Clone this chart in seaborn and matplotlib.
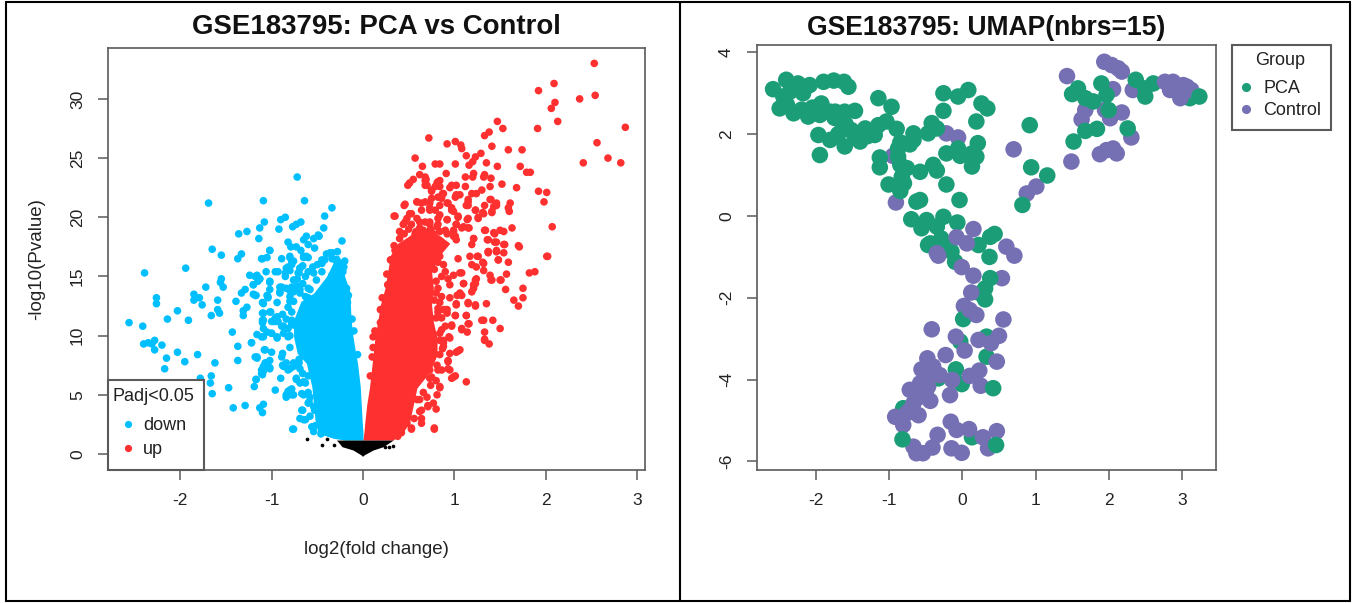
import numpy as np
import pandas as pd
import matplotlib
matplotlib.use('Agg')
import matplotlib.pyplot as plt
from matplotlib.lines import Line2D
from matplotlib.patches import Rectangle
import seaborn as sns

sns.set_style('ticks')
plt.rcParams['font.family'] = ['Liberation Sans', 'DejaVu Sans']
plt.rcParams['axes.unicode_minus'] = False

down_pts = [(-0.72,23.4),(-1.69,21.2),(-1.09,21.4),(-0.64,21.4),(-0.34,20.8),(-0.42,20.1),(-0.90,19.8),(-0.85,20.0),
    (-1.08,19.6),(-0.68,19.6),(-0.77,19.2),(-0.73,19.4),(-1.13,19.1),(-0.43,19.1),(-0.92,19.0),(-1.36,18.6),(-1.27,18.8),
    (-0.48,18.4),(-0.54,18.2),(-0.62,18.4),(-1.14,18.2),(-0.23,18.0),(-0.82,17.9),(-0.65,18.1),(-0.60,17.7),(-0.79,17.5),
    (-0.73,17.5),(-0.68,17.2),(-0.53,17.4),(-1.65,17.3),(-1.02,17.2),(-0.28,17.1),(-0.34,17.0),(-1.55,16.8),(-1.33,16.9),
    (-1.37,16.5),(-1.10,16.5),(-1.05,16.6),(-0.89,16.5),(-0.80,16.6),(-0.65,16.6),(-0.60,16.6),(-0.78,16.3),(-1.94,15.7),
    (-2.39,15.3),(-0.82,15.8),(-0.80,15.5),(-0.69,15.7),(-0.70,15.3),(-0.24,15.8),(-0.22,15.4),(-1.06,15.4),(-0.96,15.4),
    (-0.93,15.4),(-0.85,15.3),(-1.24,15.1),(-1.18,15.0),(-1.13,14.8),(-1.15,14.6),(-1.55,14.8),(-1.56,14.5),(-1.53,14.1),
    (-1.72,14.1),(-1.20,14.3),(-1.02,14.5),(-1.02,13.9),(-1.29,13.9),(-1.33,13.6),(-1.20,13.5),(-1.17,13.4),(-1.85,13.5),
    (-1.79,13.2),(-1.85,13.0),(-1.76,12.6),(-2.26,13.2),(-2.26,12.7),(-1.59,13.0),(-1.39,12.9),(-1.27,12.4),(-1.31,12.1),
    (-1.31,11.7),(-1.10,12.8),(-0.94,12.8),(-1.04,13.2),(-1.05,13.4),(-2.03,12.1),(-1.59,12.2),(-1.57,11.9),(-1.66,11.7),
    (-2.14,11.4),(-1.91,11.3),(-2.56,11.1),(-2.41,10.8),(-1.10,11.9),(-1.01,12.0),(-1.10,11.3),(-0.98,11.2),(-0.94,11.6),
    (-1.09,10.6),(-1.00,10.2),(-1.16,10.1),(-1.09,9.9),(-0.94,9.9),(-0.89,10.8),(-0.88,11.8),(-0.78,11.3),(-0.84,10.6),
    (-0.89,14.1),(-0.91,13.7),(-0.76,13.7),(-0.69,13.6),(-0.80,12.9),(-0.78,12.0),(-1.43,10.3),(-2.40,9.3),(-2.35,9.4),
    (-2.28,9.6),(-2.31,9.3),(-2.20,9.2),(-2.28,8.8),(-2.03,8.6),(-1.81,8.4),(-2.15,8.1),(-1.95,7.8),(-2.17,7.2),(-1.37,9.1),
    (-1.22,9.4),(-1.08,8.8),(-1.00,8.6),(-1.16,8.2),(-1.37,7.9),(-1.62,7.7),(-1.05,7.7),(-1.02,7.9),(-1.09,7.4),(-1.02,7.3),
    (-1.11,6.8),(-1.09,7.0),(-1.17,6.3),(-1.19,5.7),(-1.78,6.4),(-1.66,6.6),(-1.67,6.0),(-1.65,5.1),(-1.47,5.6),(-0.96,5.4),
    (-1.42,3.9),(-1.29,4.1),(-1.09,4.2),(-1.13,3.9),(-1.10,3.5),(-0.88,8.5),(-0.89,8.2),(-0.87,7.4),(-0.82,7.1),(-0.76,7.4),
    (-0.69,7.2),(-0.90,6.4),(-0.80,5.4),(-0.84,5.0),(-0.78,5.0),(-0.77,2.1),(-0.67,3.7),(-0.69,3.0),(-0.65,2.9),(-0.56,2.3),
    (-0.73,6.3),(-0.65,6.1),(-0.67,5.1),(-0.60,4.3),
    (-0.36,17.0),(-0.34,16.5),(-0.42,16.4),(-0.45,16.4),(-0.49,18.5),(-0.62,16.7),(-0.65,16.7),(-0.80,16.7),(-0.76,16.3),
    (-0.78,16.0),(-1.11,16.5),(-1.02,17.2),(-0.84,15.7),(-0.85,15.0),(-0.76,14.7),(-0.69,15.7),(-0.71,15.3),(-0.60,15.4),
    (-0.63,15.0),(-0.54,15.3),(-0.45,16.1),(-0.45,15.4),(-0.27,15.8),(-0.18,14.0),(-0.25,14.7),(-1.16,15.1),(-1.13,14.8),
    (-1.20,14.3),(-1.18,13.4),(-1.02,14.6),(-1.04,13.3),(-0.91,14.1),(-0.91,13.6),(-0.84,14.0),(-0.78,14.1),(-0.69,13.9),
    (-0.58,13.9),(-0.80,13.3),(-0.76,12.9),(-0.63,13.3),(-0.60,13.2),(-0.51,14.7),(-0.34,15.1),(-0.38,14.1),(-1.09,12.7),
    (-1.02,12.0),(-1.09,11.9),(-1.09,11.3),(-0.96,11.5),(-0.96,11.2),(-0.76,10.9),(-0.87,10.8),(-1.10,11.1),(-1.00,11.2),
    (-0.93,11.2),(-0.87,10.2),(-0.82,9.9),(-0.78,11.0),(-1.05,10.3),(-1.00,10.2),(-1.11,9.9),(-0.94,9.8),(-1.22,9.4),
    (-1.07,8.8),(-1.18,8.2),(-1.16,8.1),(-1.07,7.7),(-0.88,7.5),(-0.84,7.7),(-0.80,7.2),(-0.76,7.7),(-1.11,7.1),(-1.10,6.7),
    (-1.02,7.2),(-1.17,6.3),(-0.73,6.4),(-0.69,6.0),(-0.63,6.0),(-0.78,5.5),(-0.84,4.8),(-0.76,5.0),(-0.82,5.3),(-0.65,5.0),
    (-0.59,4.4),(-0.66,3.7),(-0.63,2.9),(-0.76,2.1),(-0.54,1.9),(-0.58,3.2),(-0.53,3.7),
    (-0.40,16.9),(-0.30,16.4),(-0.50,16.0),(-0.55,15.8),(-0.66,15.9),(-0.72,14.8),(-0.66,14.4),(-0.60,14.0),(-0.72,14.2),
    (-0.80,13.8),(-0.82,12.4),(-0.84,11.4),(-0.82,10.6),(-0.80,10.0),(-0.80,9.0),(-0.70,8.0),(-0.60,6.6),(-0.66,6.8),
    (-0.70,7.7),(-0.60,5.2),(-0.58,4.8),(-0.54,4.0),(-0.52,2.4),(-0.46,1.7),(-0.16,13.4),(-0.17,12.8),(-0.12,11.4),
    (-0.10,10.4),(-0.06,8.4),(-0.21,15.8),(-0.20,16.3)]

up_pts = [(2.53,33.0),(2.09,31.3),(1.92,30.7),(2.54,30.3),(2.37,30.0),(2.10,29.7),(2.06,29.2),(2.13,28.1),(1.47,28.1),
    (1.53,27.5),(1.91,27.5),(2.87,27.6),(1.38,27.2),(1.33,26.9),(0.72,26.7),(2.56,26.3),(0.92,26.2),(1.01,26.4),(1.07,26.1),
    (1.08,25.8),(1.41,26.0),(1.59,25.7),(1.74,25.7),(1.13,25.2),(1.23,25.1),(1.29,25.4),(0.57,25.0),(2.68,25.0),(2.41,24.6),
    (2.82,24.6),(0.79,24.5),(0.84,24.5),(1.01,24.5),(1.16,24.4),(1.20,24.7),(1.35,24.6),(0.65,24.3),(1.47,24.3),(1.72,24.3),
    (1.79,23.8),(1.83,23.8),(0.91,23.7),(0.62,23.6),(1.21,23.7),(1.20,23.4),(1.33,23.6),(1.32,23.4),(1.40,23.3),(1.12,23.4),
    (1.52,22.8),(1.68,22.5),(1.39,22.6),(1.30,22.3),(1.24,22.0),(1.19,22.0),(1.92,22.2),(2.01,22.1),(1.98,21.3),
    (0.46,21.1),(0.35,20.1),(0.59,21.3),(0.64,21.2),(0.73,21.2),(0.82,21.7),(0.87,22.0),(0.75,22.3),(0.84,22.6),(0.97,22.7),
    (1.02,22.7),(1.12,22.6),(1.06,21.9),(1.01,21.7),(0.93,21.2),(1.15,21.3),(1.13,21.0),(0.97,20.6),(1.04,20.1),(1.23,20.6),
    (1.14,19.8),(1.26,20.0),(0.51,20.3),(0.46,19.6),(0.73,20.6),(0.84,20.2),(0.92,19.8),(0.82,19.4),(0.62,19.6),(0.73,19.6),
    (0.40,18.8),(1.02,19.4),(0.99,18.9),(1.08,19.1),(1.15,19.1),(0.99,18.4),(1.02,18.1),(0.57,18.6),(0.84,18.8),
    (0.55,23.2),(0.49,22.7),(0.51,22.9),(0.68,23.4),(0.69,23.2),(0.68,22.7),(0.84,23.1),(0.81,22.9),
    (1.40,21.5),(1.46,21.2),(1.43,20.9),(1.61,21.2),(1.59,20.8),(1.60,20.5),(1.41,20.4),(1.33,21.0),(1.31,20.4),
    (2.07,19.2),(1.63,19.1),(1.50,18.9),(1.43,18.7),(1.34,18.9),(1.21,18.2),(1.36,18.1),(1.44,17.9),(1.55,17.7),(1.70,17.6),
    (1.71,17.5),(1.37,17.1),(1.46,17.2),(2.02,16.7),(1.48,16.4),(2.01,16.7),(1.88,15.4),(1.82,15.3),(1.59,16.2),(1.48,16.4),
    (1.37,17.0),(1.46,17.1),(1.57,15.2),(1.51,14.7),(1.56,13.9),(1.75,14.0),(1.75,13.2),(1.65,13.0),(1.70,12.5),(1.35,12.7),
    (1.23,12.6),(1.15,12.8),(1.42,11.3),(1.30,11.3),(1.32,11.3),(1.50,10.6),(1.33,10.3),(1.33,9.7),(1.38,9.3),
    (1.08,10.5),(1.14,10.3),(1.01,11.7),(1.16,11.0),(1.13,11.7),(1.06,8.8),(1.02,8.6),(1.13,6.1),(0.99,6.5),(1.01,6.6),
    (0.84,5.6),(0.81,5.0),(0.77,4.3),(0.80,3.8),(0.71,4.1),(0.64,3.7),(0.64,2.6),(0.78,2.1),(0.53,2.1),
    (1.19,16.0),(1.24,15.8),(1.31,16.2),(1.32,15.5),(1.39,15.1),(1.40,14.7),(1.23,14.7),(1.21,14.3),(1.19,13.7),(1.10,14.4),
    (1.08,15.3),(1.17,16.7),(1.25,16.7),(1.06,13.6),(1.02,12.7),(0.90,12.2),(0.92,11.9),(0.97,10.8),(0.88,9.6),(0.95,9.8),
    (0.88,9.1),(0.95,8.5),(0.93,7.8),(0.95,7.1),(0.86,7.1),(0.81,7.5),(0.73,6.4),(0.70,4.8),(0.59,4.6),
    (0.11,9.9),(0.11,9.0),(0.19,12.2),(0.19,11.1),(0.27,14.3),(0.31,16.4),(0.30,16.4),(0.35,17.2),
    (0.95,22.5),(1.02,21.9),(0.88,22.0),(0.86,21.6),(0.75,21.6),(0.75,22.2),(0.79,22.6),(0.82,23.0),(0.70,22.7),(0.68,23.1),
    (1.15,21.5),(1.15,21.0),(1.39,21.5),(1.46,21.0),(1.41,20.5),(1.32,20.3),(1.23,20.6),(1.26,19.9),(1.15,19.9),(1.04,20.0),
    (0.97,20.8),(0.99,20.5),(0.92,21.2),(0.45,21.0),(0.34,20.1),(0.59,21.3),(0.68,21.3),(0.73,20.8),(0.79,20.6),(0.84,21.0),
    (0.64,20.6),(0.53,20.3),(0.48,19.9),(0.59,19.9),(0.68,19.6),(0.92,19.8),(0.82,19.9),(0.44,19.4),(0.53,19.4),(0.62,19.1),
    (0.73,19.4),(0.81,19.2),(1.02,19.4),(1.16,19.1),(1.10,19.2),(0.99,18.8),(1.01,18.4),(0.92,18.6),(0.77,18.6),(1.33,18.9),
    (1.44,18.6),(1.54,18.8),(1.21,18.2),(1.37,18.1),(1.46,17.9),(1.54,17.7),(1.19,17.7),(1.37,17.1),(1.46,17.1),(1.54,17.0),
    (0.84,16.7),(1.04,16.5),(1.26,16.7),(1.32,16.1),(1.41,14.7),(1.50,14.7),(1.06,15.3),(0.99,15.1),(1.24,14.8),(1.23,14.4),
    (1.21,14.0),(1.10,14.4),(0.93,14.8),(0.95,14.3),(0.86,15.0),(0.82,14.0),(0.86,13.3),(0.95,13.2),(1.03,13.4),(1.08,13.4),
    (1.15,12.7),(1.23,12.5),(1.02,12.6),(0.92,12.2),(0.88,12.2),(0.82,12.3),(1.01,11.7),(0.86,11.5),(1.13,11.7),(1.15,11.0),
    (0.97,10.9),(0.90,10.8),(0.86,10.5),(1.08,10.6),(0.94,9.9),(1.33,9.6),(0.88,9.4),(0.87,8.9),(1.04,8.7),(0.77,8.5),
    (0.84,8.4),(0.93,7.9),(0.93,7.2),(0.82,7.1),(0.97,6.4),(0.73,7.1),(0.75,6.5),(0.84,5.7),(0.62,4.6),(0.71,4.0),(0.64,3.0),
    (0.53,2.2),(0.78,2.2),
    (0.80,11.5),(0.82,12.0),(0.78,13.0),(0.80,13.6),(0.84,12.8),(0.80,14.6),(0.78,15.6),(0.82,16.2),(0.88,16.0),(0.90,15.4),
    (0.84,10.2),(0.84,9.6),(0.80,6.2),(0.74,5.8),(0.66,5.2),(0.62,3.6),(0.56,3.0),(0.48,2.6),(0.42,1.8),(0.38,1.5),
    (0.21,13.2),(0.13,10.4),(0.26,15.2),(0.10,8.2),(0.08,6.6),(0.34,17.6),(0.40,18.2),(0.45,18.6),(0.50,19.0),(0.58,18.8),
    (0.66,18.9),(0.74,19.0),(0.90,18.9)]

ns_pts = [(-0.61,1.3),(-0.45,0.73),(-0.39,1.27),(-0.32,0.73),(0.33,0.68),(0.24,0.62),(0.28,0.62)]

# the middle of the volcano is solid colour, single genes can't be read there,
# so it is kept as the left/right edge of the cloud at each -log10(P)
down_core_y = [1.18, 1.32, 1.75, 2.87, 5.69, 7.66, 8.51, 9.92, 11.3, 12.9, 13.6, 15.0, 16.1, 16.8]
down_core_l = [-0.20, -0.32, -0.49, -0.525, -0.56, -0.62, -0.72, -0.76, -0.76, -0.68, -0.54, -0.40, -0.33, -0.32]
down_core_r = [0.0, 0.0, 0.0, -0.01, -0.03, -0.06, -0.08, -0.11, -0.13, -0.14, -0.14, -0.20, -0.22, -0.27]

up_core_y = [1.18, 1.86, 2.7, 4.14, 5.58, 6.93, 8.37, 9.8, 11.16, 12.6, 14.0, 15.4, 16.8, 17.8, 18.4, 19.0]
up_core_l = [0.0, 0.01, 0.02, 0.04, 0.07, 0.09, 0.11, 0.13, 0.16, 0.19, 0.24, 0.27, 0.30, 0.38, 0.50, 0.60]
up_core_r = [0.33, 0.44, 0.51, 0.55, 0.59, 0.73, 0.81, 0.81, 0.77, 0.75, 0.77, 0.75, 0.84, 0.95, 0.85, 0.72]

ns_core_y = [-0.17, -0.08, 0.34, 0.62, 1.18]
ns_core_l = [-0.01, -0.02, -0.11, -0.23, -0.29]
ns_core_r = [0.0, 0.01, 0.11, 0.22, 0.33]

# umap samples, kept in drawing order because the overlaps show
control_under = [(1.94,3.77),(2.04,3.69),(2.13,3.61),(2.18,3.53),(1.43,3.42),(2.06,3.10),(2.33,3.08),(1.68,2.59),(1.63,2.36),
    (2.18,2.53),(2.02,2.39),(1.95,2.59),(2.31,1.92),(2.06,1.65),(1.88,1.51),(2.11,1.53),(1.97,1.61),(1.49,1.33),(0.70,1.63),
    (1.01,0.72),(0.88,0.55),(-0.22,2.02),(-0.06,1.92),(-0.95,1.47),(-0.91,0.33),(0.54,-1.52),(0.02,-2.20)]

pca_pts = [(-2.59,3.10),(-2.41,3.33),(-2.25,3.24),(-2.09,3.20),(-1.90,3.28),(-1.76,3.31),(-1.62,3.28),(-1.56,3.16),(-2.50,2.63),
    (-2.31,2.51),(-2.11,2.43),(-1.95,2.47),(-1.74,2.55),(-1.61,2.55),(-1.47,2.57),(-2.36,3.04),(-2.18,3.00),(-2.45,2.92),
    (-1.93,2.75),(-1.81,2.55),(-1.68,2.35),(-1.15,2.88),(-0.97,2.67),(-1.97,1.98),(-1.81,1.86),(-1.61,1.70),(-1.40,1.82),
    (-1.49,2.02),(-1.33,2.14),(-1.20,1.98),(-1.15,2.22),(-1.04,2.31),(-0.90,2.13),(-1.95,1.49),(-1.13,1.43),(-1.13,1.19),
    (-0.88,1.65),(-0.88,1.45),(-0.85,1.25),(-0.76,1.17),(-0.83,0.96),(-1.01,0.77),(-0.85,0.61),(-0.67,2.02),(-0.67,1.86),
    (-0.47,2.02),(-0.42,2.27),(-0.35,2.14),(-0.58,1.08),(-0.40,1.25),(-0.35,1.11),(-0.22,0.77),(-0.04,0.39),(-0.26,3.00),
    (-0.06,2.92),(0.08,3.08),(-0.26,2.57),(0.26,2.75),(0.34,2.63),(0.19,2.31),(-0.22,1.53),(-0.06,1.65),(-0.03,1.47),
    (0.13,1.53),(0.21,1.78),(0.19,1.45),(0.13,1.21),(-0.63,0.35),(-0.58,0.39),(-0.70,-0.08),(-0.56,-0.30),(-0.49,-0.10),
    (-0.26,-0.02),(-0.35,-0.26),(-0.07,-0.16),(-0.44,-0.67),(-0.29,-0.55),(-0.22,-0.75),(0.22,-0.71),(0.38,-0.51),(0.44,-0.44),
    (1.58,3.12),(1.50,2.98),(1.68,2.88),(1.79,2.80),(1.90,3.24),(1.97,2.96),(2.00,2.59),(2.37,3.33),(2.50,2.92),(2.50,3.12),
    (2.61,3.24),(3.11,2.88),(1.84,2.13),(1.68,2.08),(1.52,1.82),(2.26,2.14),(0.92,2.22),(0.94,1.19),(1.16,0.99),(0.82,0.27),
    (-0.47,-0.71),(-0.26,-0.67),(-0.15,-0.87),(-0.10,-1.12),(0.37,-1.00),(0.38,-1.52),(0.31,-1.77),(0.24,-1.89),(0.31,-2.04),
    (0.01,-2.52),(0.33,-2.95),(-0.03,-3.07),(0.33,-3.44),(-0.09,-3.75),(-0.01,-4.11),(-0.33,-3.97),(-0.81,-4.70),(0.13,-5.41),
    (-2.40,2.72),(-2.20,2.60),(-2.05,2.65),(-1.75,2.40),(-1.60,2.25),(-1.52,2.10),(-2.30,3.15),(-1.70,2.00),(-1.45,1.90),
    (-1.30,1.95),(-0.85,1.80),(-0.72,1.75),(-0.80,0.80)]

control_over = [(2.77,3.28),(2.88,3.28),(3.07,3.16),(2.84,3.08),(2.98,2.88),(3.13,3.08),(3.02,3.20),(0.15,-0.32),(-0.08,-0.52),
    (0.06,-0.67),(0.60,-0.75),(-0.35,-0.91),(-0.33,-0.97),(-0.01,-1.25),(0.15,-1.46),(0.12,-1.87),(0.71,-0.97),(0.10,-2.30),
    (0.19,-2.42),(0.56,-2.53),(-0.42,-2.77),(-0.09,-2.95),(0.22,-3.03),(0.50,-2.93),(0.39,-3.11),(0.03,-3.29),(-0.23,-3.40),
    (-0.48,-3.48),(-0.56,-3.75),(-0.40,-3.68),(-0.31,-3.89),(-0.14,-4.01),(0.10,-3.91),(0.23,-3.78),(0.25,-4.15),(0.47,-3.56),
    (-0.72,-4.25),(-0.58,-4.09),(-0.47,-4.17),(-0.17,-4.38),(-0.44,-4.52),(-0.67,-4.58),(-0.60,-4.87),(-0.92,-4.91),(-0.76,-4.82),
    (-0.81,-5.11),(-0.16,-5.03),(-0.08,-5.23),(0.09,-5.21),(0.47,-5.26),(0.28,-5.41),(-0.34,-5.35),(-0.67,-5.64),(-0.41,-5.66),
    (-0.54,-5.80),(-0.63,-5.80),(-0.15,-5.68),(-0.01,-5.79),(0.35,-5.68),(-0.49,-4.01),(-0.58,-4.42),(-0.72,-4.75),(-0.50,-4.35)]

pca_top = [(3.24,2.92),(0.42,-4.21),(-0.82,-5.46),(0.46,-5.60)]

vol_xticks = [-2, -1, 0, 1, 2, 3]
vol_yticks = [0, 5, 10, 15, 20, 25, 30]
umap_xticks = [-2, -1, 0, 1, 2, 3]
umap_yticks = [-6, -4, -2, 0, 2, 4]

BLUE = '#00BFFF'
RED = '#FF3030'
GREEN = '#1B9E77'
PURPLE = '#7570B3'
INK = '#222222'
EDGE = '#5a5a5a'

W, H = 1353, 603


def px_axes(fig, left, right, top, bottom):
    return fig.add_axes([left / W, (H - bottom) / H, (right - left) / W, (bottom - top) / H])


def px_box(left, right, top, bottom, zorder):
    return Rectangle((left / W, 1 - bottom / H), (right - left) / W, (bottom - top) / H, transform=fig.transFigure,
                     facecolor='white', edgecolor=EDGE, lw=1.5, zorder=zorder, clip_on=False)


def r_style(ax):
    for s in ax.spines.values():
        s.set_color(EDGE)
        s.set_linewidth(1.2)
    ax.tick_params(axis='both', length=7.5, width=1.1, color=EDGE, labelsize=12.5, labelcolor=INK)
    ax.tick_params(axis='x', pad=9)
    ax.tick_params(axis='y', pad=9)
    for t in ax.get_yticklabels():
        t.set_rotation(90)
        t.set_va('center')


def r_legend(ax, title, anchor, markerscale, textpad, spacing, title_gap):
    h, l = ax.get_legend_handles_labels()
    leg = ax.legend(h, l, title=title, loc='upper left', bbox_to_anchor=(anchor[0] / W, 1 - anchor[1] / H),
                    bbox_transform=fig.transFigure, borderaxespad=0, borderpad=0, fontsize=13, title_fontsize=13,
                    frameon=False, markerscale=markerscale, handlelength=0.75, handletextpad=textpad, labelspacing=spacing)
    leg._legend_box.sep = title_gap
    leg.get_title().set_color(INK)
    leg.set_zorder(10)
    for t in leg.get_texts():
        t.set_color(INK)
    return leg


fig = plt.figure(figsize=(W / 100, H / 100), dpi=100)

# volcano
ax = px_axes(fig, 108, 645, 48, 470)
ax.fill_betweenx(down_core_y, down_core_l, down_core_r, color=BLUE, lw=0)
ax.fill_betweenx(up_core_y, up_core_l, up_core_r, color=RED, lw=0)
ax.fill_betweenx(ns_core_y, ns_core_l, ns_core_r, color='black', lw=0)

vol = pd.concat([
    pd.DataFrame(down_pts, columns=['x', 'y']).assign(group='down'),
    pd.DataFrame(up_pts, columns=['x', 'y']).assign(group='up'),
])
sns.scatterplot(data=vol, x='x', y='y', hue='group', hue_order=['down', 'up'], palette=[BLUE, RED],
                s=30, linewidth=0, ax=ax, zorder=3)
ns = pd.DataFrame(ns_pts, columns=['x', 'y'])
sns.scatterplot(data=ns, x='x', y='y', color='black', s=7, linewidth=0, ax=ax, zorder=3)

ax.set_xlim(-2.79, 3.085)
ax.set_ylim(-1.35, 34.3)
ax.set_xticks(vol_xticks)
ax.set_yticks(vol_yticks)
r_style(ax)
ax.set_xlabel('log2(fold change)', fontsize=13.5, color=INK, labelpad=24)
ax.set_ylabel('-log10(Pvalue)', fontsize=13.5, color=INK, labelpad=18)
ax.set_title('GSE183795: PCA vs Control', fontsize=19.9, fontweight='bold', color='#111111', pad=10)

ax.add_patch(px_box(108, 204, 380, 470, 9))
r_legend(ax, 'Padj<0.05', (113, 388), 0.95, 0.45, 0.39, 8.6)

# umap
ax2 = px_axes(fig, 757, 1216, 45, 470)
umap = pd.concat([
    pd.DataFrame(control_under, columns=['x', 'y']).assign(group='Control'),
    pd.DataFrame(pca_pts, columns=['x', 'y']).assign(group='PCA'),
    pd.DataFrame(control_over, columns=['x', 'y']).assign(group='Control'),
    pd.DataFrame(pca_top, columns=['x', 'y']).assign(group='PCA'),
])
sns.scatterplot(data=umap, x='x', y='y', hue='group', hue_order=['PCA', 'Control'], palette=[GREEN, PURPLE],
                s=142, linewidth=0, ax=ax2)
ax2.set_xlim(-2.81, 3.468)
ax2.set_ylim(-6.21, 4.18)
ax2.set_xticks(umap_xticks)
ax2.set_yticks(umap_yticks)
r_style(ax2)
ax2.set_xlabel('')
ax2.set_ylabel('')
ax2.set_title('GSE183795: UMAP(nbrs=15)', fontsize=19.1, fontweight='bold', color='#111111', pad=7)

ax2.add_patch(px_box(1232, 1331, 45, 130, 9))
r_legend(ax2, 'Group', (1239, 52), 0.55, 0.6, 0.28, 8)

# black table rules round the two panels
for x0, y0, x1, y1 in [(6, 2, 6, 601), (680, 2, 680, 601), (1350, 2, 1350, 601), (6, 2, 1350, 2), (6, 601, 1350, 601)]:
    fig.add_artist(Line2D([x0 / W, x1 / W], [1 - y0 / H, 1 - y1 / H], color='black', lw=1.5, transform=fig.transFigure))

plt.savefig('out.png', dpi=100)
